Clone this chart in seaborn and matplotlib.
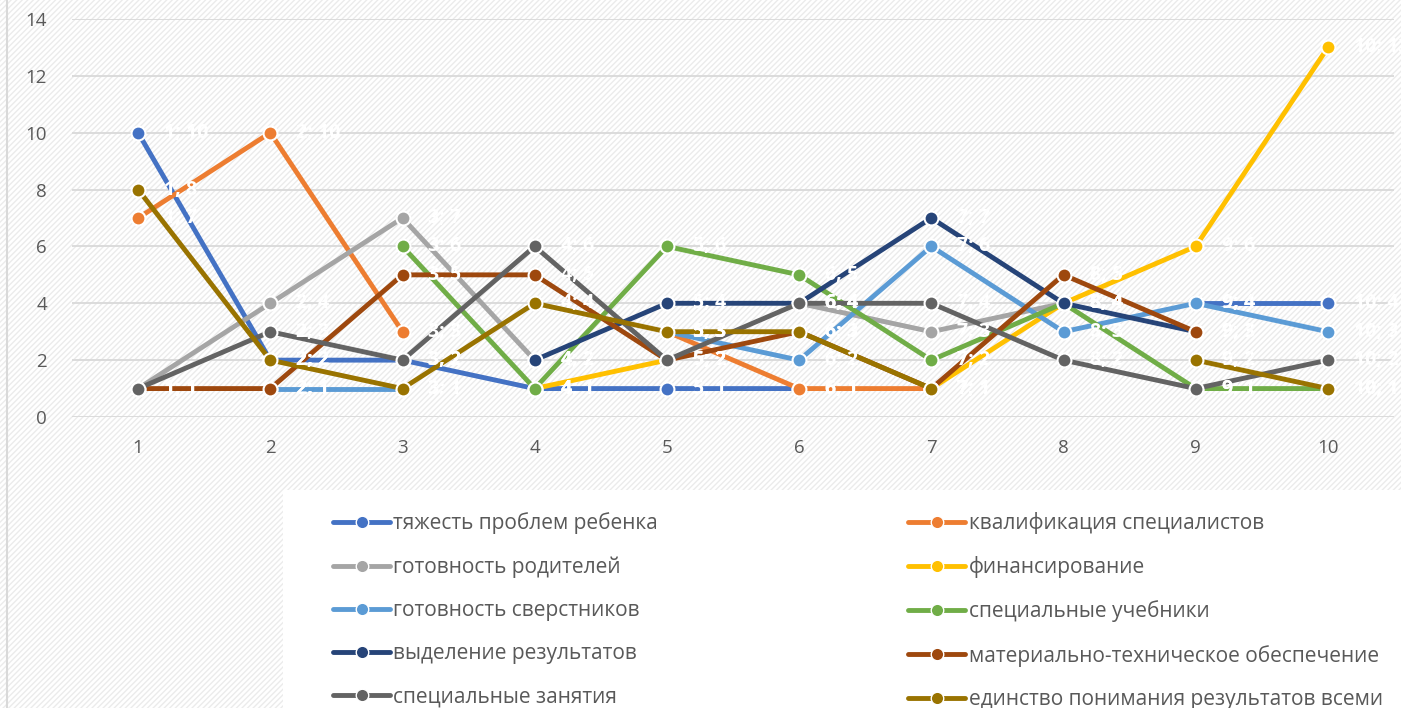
import numpy as np
import pandas as pd
import seaborn as sns
import matplotlib.pyplot as plt
from matplotlib.lines import Line2D
from matplotlib.patches import Rectangle

nan = np.nan
positions = [1, 2, 3, 4, 5, 6, 7, 8, 9, 10]

series_names = [
    "тяжесть проблем ребенка",
    "квалификация специалистов",
    "готовность родителей",
    "финансирование",
    "готовность сверстников",
    "специальные учебники",
    "выделение результатов",
    "материально-техническое обеспечение",
    "специальные занятия",
    "единство понимания результатов всеми",
]
colors = ["#4472C4", "#ED7D31", "#A5A5A5", "#FFC000", "#5B9BD5",
          "#70AD47", "#264478", "#9E480E", "#636363", "#997300"]

tyazhest = [10, 2, 2, 1, 1, 1, nan, nan, 4, 4]
kvalifikaciya = [7, 10, 3, nan, 3, 1, 1, nan, nan, nan]
roditeli = [1, 4, 7, 2, nan, 4, 3, 4, nan, nan]
finansirovanie = [nan, nan, nan, 1, 2, nan, 1, 4, 6, 13]
sverstniki = [nan, 1, 1, nan, 3, 2, 6, 3, 4, 3]
uchebniki = [nan, nan, 6, 1, 6, 5, 2, 4, 1, 1]
vydelenie = [nan, nan, nan, 2, 4, 4, 7, 4, 3, nan]
mto = [1, 1, 5, 5, 2, 3, 1, 5, 3, nan]
zanyatiya = [1, 3, 2, 6, 2, 4, 4, 2, 1, 2]
edinstvo = [8, 2, 1, 4, 3, 3, 1, nan, 2, 1]

values = [tyazhest, kvalifikaciya, roditeli, finansirovanie, sverstniki,
          uchebniki, vydelenie, mto, zanyatiya, edinstvo]

# long table; gaps split a series into separate runs so lines are not bridged
rows = []
for name, vals in zip(series_names, values):
    run = 0
    for x, v in zip(positions, vals):
        if np.isnan(v):
            run += 1
            continue
        rows.append({"x": x, "y": v, "series": name, "seg": f"{name}_{run}"})
df = pd.DataFrame(rows)

sns.set_style("white")
plt.rcParams["font.family"] = ["Open Sans", "DejaVu Sans"]

fig = plt.figure(figsize=(14.01, 7.08), dpi=100)
fig.patch.set_facecolor("white")
fig.patches.append(Rectangle((0, 0), 1, 1, transform=fig.transFigure,
                             facecolor="white", edgecolor="#ebebeb",
                             hatch="//////", linewidth=0, zorder=-10))
fig.patches.append(Rectangle((283 / 1401, 0), 1, (708 - 490) / 708,
                             transform=fig.transFigure, facecolor="white",
                             edgecolor="none", zorder=-9))
fig.lines.append(Line2D([7 / 1401, 7 / 1401], [0, 1], transform=fig.transFigure,
                        color="#d9d9d9", linewidth=1.5))

ax = fig.add_axes([72 / 1401, 1 - 417 / 708, (1394 - 72) / 1401, (417 - 19) / 708])
ax.set_facecolor("none")

sns.lineplot(data=df, x="x", y="y", hue="series", hue_order=series_names,
             palette=colors, units="seg", estimator=None, sort=False,
             marker="o", markersize=10, markeredgecolor="white",
             markeredgewidth=1.5, linewidth=3.5, legend=False, ax=ax)

for name, vals in zip(series_names, values):
    for x, v in zip(positions, vals):
        if np.isnan(v):
            continue
        ax.annotate(f"{x}; {int(v)}", (x, v), xytext=(26, 0),
                    textcoords="offset pixels", color="white", fontsize=14,
                    fontweight="bold", va="center", ha="left", annotation_clip=False)

ax.set_xlim(0.5, 10.5)
ax.set_ylim(0, 14)
ax.set_xticks(positions)
ax.set_yticks(range(0, 15, 2))
ax.grid(axis="y", color="#d9d9d9", linewidth=1.3)
ax.set_axisbelow(True)
for s in ax.spines.values():
    s.set_visible(False)
ax.tick_params(axis="both", length=0, labelsize=13.5, labelcolor="#595959")
ax.tick_params(axis="x", pad=16)
ax.tick_params(axis="y", pad=18)
ax.set_xlabel("")
ax.set_ylabel("")

handles = [Line2D([0], [0], color=c, linewidth=3.5, marker="o", markersize=9,
                  markeredgecolor="white", markeredgewidth=1.0) for c in colors]
order = [0, 2, 4, 6, 8, 1, 3, 5, 7, 9]
leg = fig.legend([handles[i] for i in order], [series_names[i] for i in order],
                 ncol=2, loc="upper left", bbox_to_anchor=(333 / 1401, 1 - 512 / 708),
                 frameon=False, fontsize=15, handlelength=2.75, handletextpad=0.15,
                 columnspacing=12.0, labelspacing=1.07, borderpad=0, borderaxespad=0)
for t in leg.get_texts():
    t.set_color("#595959")

fig.savefig("out.png", dpi=100)
